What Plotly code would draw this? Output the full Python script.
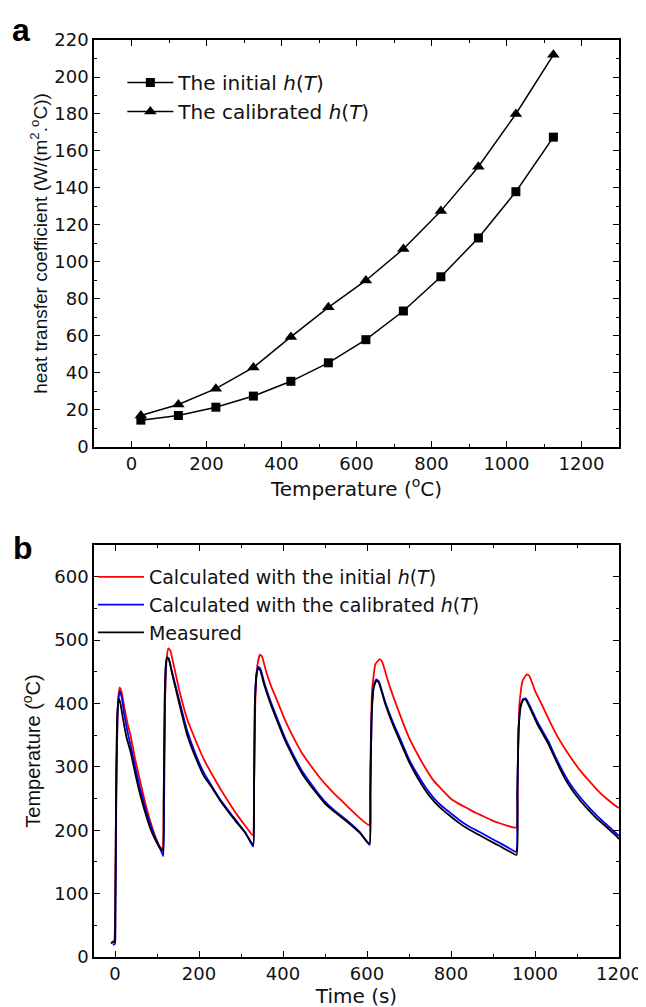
import plotly.graph_objects as go

# ---- panel a: heat transfer coefficient vs temperature ----
temp_c = [25, 125, 225, 325, 425, 525, 625, 725, 825, 925, 1025, 1125]
h_initial = [14.5, 17, 21.5, 27.5, 35.5, 45.5, 58, 73.5, 92, 113, 138, 167.5]
h_calibrated = [17, 23, 31.5, 43, 59.5, 75.5, 90, 107, 127.5, 151.5, 180, 212]

# ---- panel b: temperature histories ----
t_initial = [-8, -2, 0, 2, 5, 8, 11, 15, 22, 30, 37, 48, 60, 72, 84, 96, 107, 113,
             116, 119, 123, 127, 132, 140, 154, 172, 193, 212, 232, 251, 270, 290, 310, 328,
             331, 334, 339, 345, 350, 360, 373, 387, 406, 426, 445, 465, 484, 503, 523, 542, 562, 583, 605,
             608, 612, 620, 630, 636, 650, 664, 682, 700, 721, 740, 760, 780, 799, 818, 838, 857, 877, 896, 916, 935, 955,
             959, 963, 970, 980, 987, 1000, 1015, 1032, 1050, 1071, 1090, 1110, 1130, 1149, 1170, 1195, 1200]
T_initial = [24, 25, 60, 200, 350, 410, 425, 420, 395, 368, 350, 312, 277, 243, 214, 190, 174, 170,
             250, 400, 470, 487, 483, 460, 418, 375, 340, 311, 287, 265, 245, 225, 207, 192,
             260, 400, 460, 477, 474, 450, 425, 403, 372, 345, 322, 303, 286, 271, 257, 245, 232, 219, 208,
             300, 420, 462, 470, 466, 435, 408, 376, 346, 319, 297, 277, 263, 250, 242, 235, 228, 222, 216, 211, 207, 204,
             300, 400, 435, 446, 443, 420, 400, 376, 352, 329, 310, 292, 277, 263, 250, 237, 235]

t_calibrated = [-5, 0, 1, 3, 6, 9, 12, 16, 22, 30, 37, 48, 60, 72, 84, 96, 108, 115,
                117, 119, 121, 124, 128, 135, 154, 172, 193, 212, 232, 251, 270, 290, 310, 329,
                331, 333, 337, 341, 346, 355, 370, 387, 406, 426, 445, 465, 484, 503, 523, 542, 562, 583, 606,
                608, 611, 616, 622, 628, 643, 662, 682, 700, 721, 740, 760, 780, 799, 818, 838, 857, 877, 896, 916, 935, 955,
                958, 961, 966, 972, 978, 990, 1005, 1032, 1050, 1071, 1090, 1110, 1130, 1149, 1170, 1195, 1200]
T_calibrated = [19, 21, 50, 250, 380, 412, 419, 410, 383, 355, 334, 300, 265, 235, 209, 188, 170, 159,
                250, 400, 460, 473, 471, 452, 402, 357, 318, 290, 268, 248, 231, 214, 197, 174,
                260, 400, 448, 458, 455, 434, 404, 375, 344, 317, 294, 275, 258, 243, 231, 221, 210, 197, 177,
                260, 380, 428, 438, 435, 403, 370, 340, 312, 287, 267, 250, 237, 227, 217, 208, 201, 194, 187, 180, 173, 166,
                260, 360, 398, 407, 408, 393, 372, 340, 314, 287, 267, 250, 235, 222, 209, 194, 191]

t_measured = [-10, -5, -1, 0, 1, 3, 6, 9, 13, 20, 28, 37, 48, 60, 72, 84, 96, 108, 114,
              116, 118, 121, 124, 128, 135, 154, 172, 193, 212, 232, 251, 270, 290, 310, 329,
              331, 333, 337, 341, 346, 355, 370, 387, 406, 426, 445, 465, 484, 503, 523, 542, 562, 583, 606,
              608, 611, 616, 622, 628, 643, 662, 682, 700, 721, 740, 760, 780, 799, 818, 838, 857, 877, 896, 916, 935, 956,
              958, 961, 966, 972, 978, 990, 1005, 1032, 1050, 1071, 1090, 1110, 1130, 1149, 1170, 1195, 1200]
T_measured = [22, 23, 25, 28, 100, 300, 390, 408, 400, 372, 345, 324, 290, 256, 228, 203, 185, 171, 167,
              250, 400, 460, 472, 470, 450, 397, 350, 313, 285, 266, 246, 229, 212, 196, 177,
              260, 400, 445, 455, 452, 430, 400, 371, 340, 313, 290, 271, 255, 240, 229, 219, 208, 196, 178,
              260, 380, 425, 436, 433, 400, 366, 335, 308, 282, 262, 245, 232, 222, 212, 203, 196, 189, 182, 175, 168, 161,
              260, 360, 395, 406, 406, 390, 368, 336, 310, 282, 262, 245, 230, 217, 205, 190, 186, 183]

WIDE = "DejaVu Sans, Verdana, sans-serif"
NARROW = "Liberation Sans, Arial, sans-serif"
INK = "#111"

fig = go.Figure()

fig.add_trace(go.Scatter(
    x=temp_c, y=h_initial, mode="lines+markers", name="The initial <i>h</i>(<i>T</i>)",
    line=dict(color="black", width=1.5),
    marker=dict(symbol="square", size=9, color="black"),
    xaxis="x", yaxis="y", legend="legend"))
fig.add_trace(go.Scatter(
    x=temp_c, y=h_calibrated, mode="lines+markers", name="The calibrated <i>h</i>(<i>T</i>)",
    line=dict(color="black", width=1.5),
    marker=dict(symbol="triangle-up", size=11, color="black"),
    xaxis="x", yaxis="y", legend="legend"))

curve_line = dict(width=1.8, shape="spline", smoothing=0.4)
fig.add_trace(go.Scatter(
    x=t_initial, y=T_initial, mode="lines", name="Calculated with the initial <i>h</i>(<i>T</i>)",
    line=dict(curve_line, color="#ff0000"), xaxis="x2", yaxis="y2", legend="legend2"))
fig.add_trace(go.Scatter(
    x=t_calibrated, y=T_calibrated, mode="lines", name="Calculated with the calibrated <i>h</i>(<i>T</i>)",
    line=dict(curve_line, color="#0000ff"), xaxis="x2", yaxis="y2", legend="legend2"))
fig.add_trace(go.Scatter(
    x=t_measured, y=T_measured, mode="lines", name="Measured",
    line=dict(curve_line, color="black"), xaxis="x2", yaxis="y2", legend="legend2"))

axis_common = dict(
    showgrid=False, zeroline=False, showline=True, linecolor="black", linewidth=1.5,
    mirror="ticks", ticks="inside", ticklen=6, tickwidth=1.2, tickcolor="black",
    tickfont=dict(family=WIDE, size=18, color=INK),
)
minor_ticks = dict(ticks="inside", ticklen=3, tickcolor="black")

fig.update_layout(
    width=646, height=1007,
    margin=dict(l=86, r=24, t=32, b=58),
    paper_bgcolor="white", plot_bgcolor="white",
    font=dict(family=WIDE, color=INK, size=19),
    showlegend=True,
    xaxis=dict(axis_common, domain=[0, 1], anchor="y", range=[-100, 1300], dtick=200, tick0=0,
               minor=dict(minor_ticks, dtick=100),
               title=dict(text="Temperature (<sup>o</sup>C)", standoff=6,
                          font=dict(family=WIDE, size=20, color=INK))),
    yaxis=dict(axis_common, domain=[0.5562, 1], anchor="x", range=[0, 220], dtick=20,
               minor=dict(minor_ticks, dtick=10),
               title=dict(text="heat transfer coefficient (W/(m<sup>2</sup>.<sup>o</sup>C))", standoff=2,
                          font=dict(family=NARROW, size=19, color=INK))),
    xaxis2=dict(axis_common, domain=[0, 1], anchor="y2", range=[-50, 1200], dtick=200, tick0=0,
                minor=dict(minor_ticks, dtick=100),
                title=dict(text="Time (s)", standoff=4,
                           font=dict(family=WIDE, size=20, color=INK))),
    yaxis2=dict(axis_common, domain=[0, 0.4493], anchor="x2", range=[0, 650], dtick=100,
                minor=dict(minor_ticks, dtick=50),
                title=dict(text="Temperature (<sup>o</sup>C)", standoff=8,
                           font=dict(family=NARROW, size=20, color=INK))),
    legend=dict(x=0.054, y=0.975, xanchor="left", yanchor="top", bgcolor="rgba(0,0,0,0)",
                font=dict(family=WIDE, size=20, color=INK), tracegroupgap=0, itemwidth=46),
    legend2=dict(x=-0.002, y=0.435, xanchor="left", yanchor="top", bgcolor="rgba(0,0,0,0)",
                 font=dict(family=WIDE, size=19, color=INK), tracegroupgap=0, itemwidth=46),
    annotations=[
        dict(text="<b>a</b>", x=-0.14, y=1.0327, xref="paper", yref="paper",
             xanchor="center", yanchor="top", showarrow=False,
             font=dict(family=NARROW, size=32, color="black")),
        dict(text="<b>b</b>", x=-0.135, y=0.446, xref="paper", yref="paper",
             xanchor="center", yanchor="middle", showarrow=False,
             font=dict(family=NARROW, size=32, color="black")),
    ],
)

fig.write_html("out.html")
